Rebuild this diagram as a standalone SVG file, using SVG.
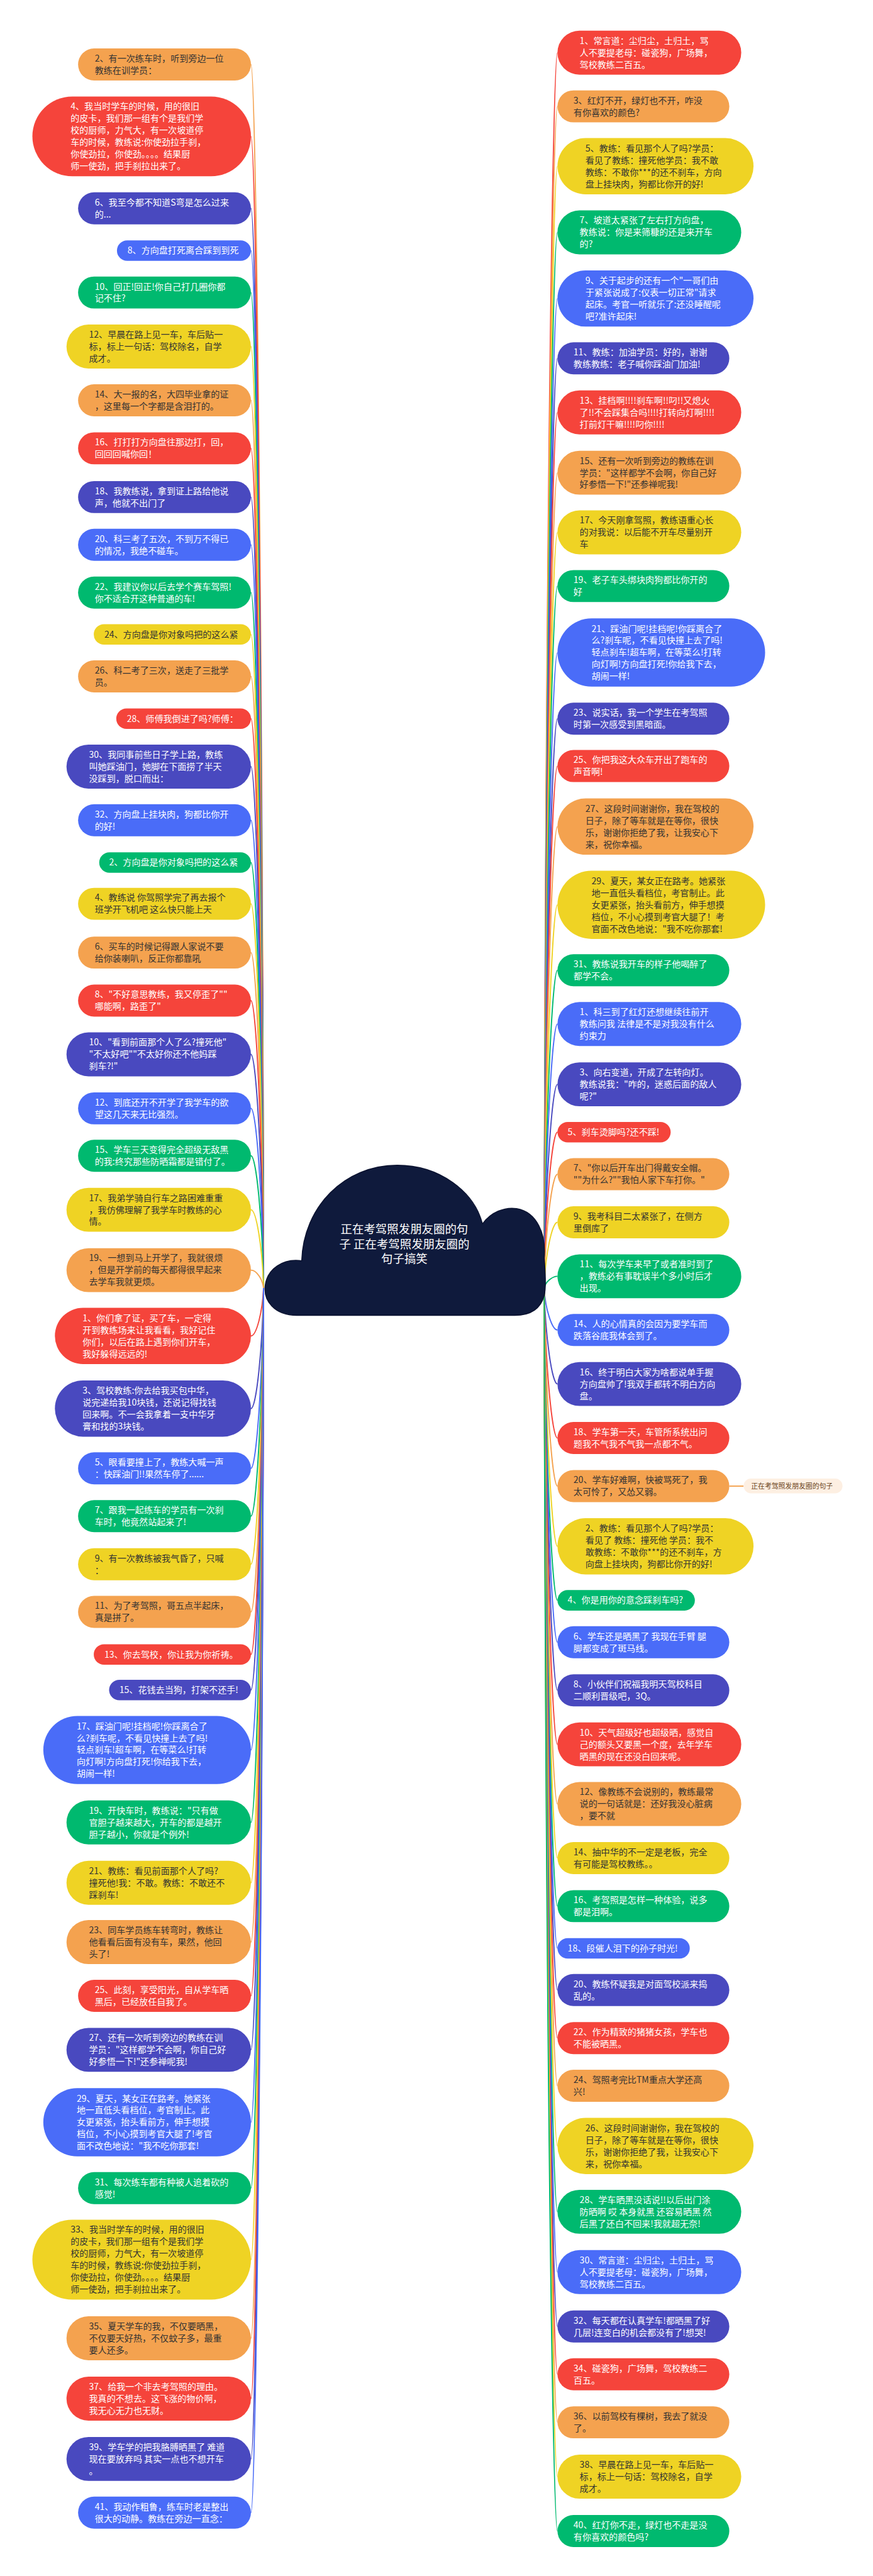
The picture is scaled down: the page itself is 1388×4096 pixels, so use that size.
<svg xmlns="http://www.w3.org/2000/svg" width="1388" height="4096" viewBox="0 0 1388 4096">
<style>
text{font-family:"Noto Sans CJK SC","Noto Sans",sans-serif;font-size:26px}
.r{fill:#f5443b}.o{fill:#f4a24f}.y{fill:#efd324}.g{fill:#00b96f}.b{fill:#4a6cf8}.i{fill:#4949bf}
.tw{fill:#ffffff}.td{fill:#333333}
#links path{fill:none;stroke-width:3.5}
.cr{stroke:#f5443b}.co{stroke:#f4a24f}.cy{stroke:#efd324}.cg{stroke:#00b96f}.cb{stroke:#4a6cf8}.ci{stroke:#4949bf}
.ct{font-size:34px;fill:#ffffff;text-anchor:middle}
.lt{font-size:20px;fill:#6b4420}
</style>
<rect width="1388" height="4096" fill="#ffffff"/>
<g transform="scale(0.5421)">
<g id="links">
<path class="co" d="M773,3778 C770,1983.5 752,189 736,189"/>
<path class="cr" d="M773,3778 C770,2089 752,400 736,400"/>
<path class="ci" d="M773,3778 C770,2194.5 752,611 736,611"/>
<path class="cb" d="M773,3778 C770,2256.5 752,735 736,735"/>
<path class="cg" d="M773,3778 C770,2318 752,858 736,858"/>
<path class="cy" d="M773,3778 C770,2397 752,1016.5 736,1016.5"/>
<path class="co" d="M773,3778 C770,2476 752,1174 736,1174"/>
<path class="cr" d="M773,3778 C770,2546.5 752,1315 736,1315"/>
<path class="ci" d="M773,3778 C770,2618 752,1458 736,1458"/>
<path class="cb" d="M773,3778 C770,2688 752,1598 736,1598"/>
<path class="cg" d="M773,3778 C770,2758 752,1738 736,1738"/>
<path class="cy" d="M773,3778 C770,2819.5 752,1861 736,1861"/>
<path class="co" d="M773,3778 C770,2881 752,1984 736,1984"/>
<path class="cr" d="M773,3778 C770,2943 752,2108 736,2108"/>
<path class="ci" d="M773,3778 C770,3013 752,2248.5 736,2248.5"/>
<path class="cb" d="M773,3778 C770,3092 752,2406 736,2406"/>
<path class="cg" d="M773,3778 C770,3154 752,2530 736,2530"/>
<path class="cy" d="M773,3778 C770,3214.5 752,2651 736,2651"/>
<path class="co" d="M773,3778 C770,3286 752,2794 736,2794"/>
<path class="cr" d="M773,3778 C770,3356.5 752,2935 736,2935"/>
<path class="ci" d="M773,3778 C770,3435 752,3092.5 736,3092.5"/>
<path class="cb" d="M773,3778 C770,3514.5 752,3251 736,3251"/>
<path class="cg" d="M773,3778 C770,3584 752,3390 736,3390"/>
<path class="cy" d="M773,3778 C770,3663 752,3548.5 736,3548.5"/>
<path class="co" d="M773,3778 C770,3751.5 752,3725.5 736,3725.5"/>
<path class="cr" d="M773,3778 C770,3848 752,3918.5 736,3918.5"/>
<path class="ci" d="M773,3778 C770,3955 752,4131.5 736,4131.5"/>
<path class="cb" d="M773,3778 C770,4042.5 752,4307 736,4307"/>
<path class="cg" d="M773,3778 C770,4112.5 752,4447 736,4447"/>
<path class="cy" d="M773,3778 C770,4183 752,4588 736,4588"/>
<path class="co" d="M773,3778 C770,4253 752,4728 736,4728"/>
<path class="cr" d="M773,3778 C770,4315.5 752,4853 736,4853"/>
<path class="ci" d="M773,3778 C770,4367.5 752,4957 736,4957"/>
<path class="cb" d="M773,3778 C770,4455.5 752,5133 736,5133"/>
<path class="cg" d="M773,3778 C770,4561.5 752,5345.5 736,5345.5"/>
<path class="cy" d="M773,3778 C770,4650 752,5522.5 736,5522.5"/>
<path class="co" d="M773,3778 C770,4737 752,5696.5 736,5696.5"/>
<path class="cr" d="M773,3778 C770,4816 752,5854 736,5854"/>
<path class="ci" d="M773,3778 C770,4895 752,6012.5 736,6012.5"/>
<path class="cb" d="M773,3778 C770,5001.5 752,6225 736,6225"/>
<path class="cg" d="M773,3778 C770,5098 752,6418 736,6418"/>
<path class="cy" d="M773,3778 C770,5203 752,6628 736,6628"/>
<path class="co" d="M773,3778 C770,5318 752,6858.5 736,6858.5"/>
<path class="cr" d="M773,3778 C770,5406.5 752,7035.5 736,7035.5"/>
<path class="ci" d="M773,3778 C770,5495 752,7212.5 736,7212.5"/>
<path class="cb" d="M773,3778 C770,5574 752,7370 736,7370"/>
<path class="cr" d="M1596,3778 C1599,1966 1619,154.5 1635,154.5"/>
<path class="co" d="M1596,3778 C1599,2045 1619,312 1635,312"/>
<path class="cy" d="M1596,3778 C1599,2133 1619,487.5 1635,487.5"/>
<path class="cg" d="M1596,3778 C1599,2230 1619,681.5 1635,681.5"/>
<path class="cb" d="M1596,3778 C1599,2327 1619,875.5 1635,875.5"/>
<path class="ci" d="M1596,3778 C1599,2414.5 1619,1051 1635,1051"/>
<path class="cr" d="M1596,3778 C1599,2494 1619,1209.5 1635,1209.5"/>
<path class="co" d="M1596,3778 C1599,2582 1619,1386.5 1635,1386.5"/>
<path class="cy" d="M1596,3778 C1599,2670 1619,1561.5 1635,1561.5"/>
<path class="cg" d="M1596,3778 C1599,2748.5 1619,1719 1635,1719"/>
<path class="cb" d="M1596,3778 C1599,2846 1619,1914 1635,1914"/>
<path class="ci" d="M1596,3778 C1599,2943 1619,2108 1635,2108"/>
<path class="cr" d="M1596,3778 C1599,3012.5 1619,2247 1635,2247"/>
<path class="co" d="M1596,3778 C1599,3101 1619,2424.5 1635,2424.5"/>
<path class="cy" d="M1596,3778 C1599,3216 1619,2654 1635,2654"/>
<path class="cg" d="M1596,3778 C1599,3312 1619,2846 1635,2846"/>
<path class="cb" d="M1596,3778 C1599,3391 1619,3003.5 1635,3003.5"/>
<path class="ci" d="M1596,3778 C1599,3479 1619,3180.5 1635,3180.5"/>
<path class="cr" d="M1596,3778 C1599,3549.5 1619,3321 1635,3321"/>
<path class="co" d="M1596,3778 C1599,3611 1619,3444 1635,3444"/>
<path class="cy" d="M1596,3778 C1599,3681.5 1619,3585 1635,3585"/>
<path class="cg" d="M1596,3778 C1599,3761 1619,3743.5 1635,3743.5"/>
<path class="cb" d="M1596,3778 C1599,3839.5 1619,3901 1635,3901"/>
<path class="ci" d="M1596,3778 C1599,3919 1619,4059.5 1635,4059.5"/>
<path class="cr" d="M1596,3778 C1599,3998 1619,4218 1635,4218"/>
<path class="co" d="M1596,3778 C1599,4068.5 1619,4359 1635,4359"/>
<path class="cy" d="M1596,3778 C1599,4157 1619,4535.5 1635,4535.5"/>
<path class="cg" d="M1596,3778 C1599,4236 1619,4694 1635,4694"/>
<path class="cb" d="M1596,3778 C1599,4297.5 1619,4817 1635,4817"/>
<path class="ci" d="M1596,3778 C1599,4368 1619,4958 1635,4958"/>
<path class="cr" d="M1596,3778 C1599,4447 1619,5116.5 1635,5116.5"/>
<path class="co" d="M1596,3778 C1599,4535 1619,5291.5 1635,5291.5"/>
<path class="cy" d="M1596,3778 C1599,4614 1619,5450 1635,5450"/>
<path class="cg" d="M1596,3778 C1599,4684.5 1619,5591 1635,5591"/>
<path class="cb" d="M1596,3778 C1599,4746.5 1619,5715 1635,5715"/>
<path class="ci" d="M1596,3778 C1599,4807.5 1619,5837 1635,5837"/>
<path class="cr" d="M1596,3778 C1599,4878 1619,5978 1635,5978"/>
<path class="co" d="M1596,3778 C1599,4948 1619,6118 1635,6118"/>
<path class="cy" d="M1596,3778 C1599,5036 1619,6294.5 1635,6294.5"/>
<path class="cg" d="M1596,3778 C1599,5133 1619,6487.5 1635,6487.5"/>
<path class="cb" d="M1596,3778 C1599,5221 1619,6664.5 1635,6664.5"/>
<path class="ci" d="M1596,3778 C1599,5301 1619,6824 1635,6824"/>
<path class="cr" d="M1596,3778 C1599,5371 1619,6964 1635,6964"/>
<path class="co" d="M1596,3778 C1599,5441.5 1619,7105 1635,7105"/>
<path class="cy" d="M1596,3778 C1599,5521 1619,7264.5 1635,7264.5"/>
<path class="cg" d="M1596,3778 C1599,5601 1619,7424 1635,7424"/>
<path class="co" d="M2139,4359 L2181,4359"/>
</g>

<g id="center">
<path d="M870,3858 C805,3858 772,3815 778,3770 C784,3722 830,3690 885,3698 C890,3540 1010,3418 1165,3418 C1290,3418 1390,3495 1415,3590 C1440,3555 1480,3540 1515,3545 C1575,3555 1602,3620 1596,3690 C1600,3740 1602,3778 1596,3800 C1585,3840 1555,3858 1510,3858 Z" fill="#0f1a3c" stroke="#0a1230" stroke-width="3"/>
<text class="ct" x="1186" y="3617">正在考驾照发朋友圈的句</text>
<text class="ct" x="1186" y="3661">子 正在考驾照发朋友圈的</text>
<text class="ct" x="1186" y="3704">句子搞笑</text>
</g>

<g id="label">
<rect x="2181" y="4337" width="290" height="43" rx="21.5" fill="#fdefe2"/>
<text class="lt" x="2203" y="4366">正在考驾照发朋友圈的句子</text>
</g>

<g id="L1"><rect class="o" x="229" y="142" width="507" height="94" rx="47"/><text class="td" x="278" y="180.5"><tspan x="278">2、有一次练车时，听到旁边一位</tspan><tspan x="278" dy="35">教练在训学员：</tspan></text></g>
<g id="L2"><rect class="r" x="95" y="283" width="641" height="234" rx="117"/><text class="tw" x="207" y="321.5"><tspan x="207">4、我当时学车的时候，用的很旧</tspan><tspan x="207" dy="35">的皮卡，我们那一组有个是我们学</tspan><tspan x="207" dy="35">校的厨师，力气大，有一次坡道停</tspan><tspan x="207" dy="35">车的时候，教练说:你使劲拉手刹，</tspan><tspan x="207" dy="35">你使劲拉，你使劲。。。。结果厨</tspan><tspan x="207" dy="35">师一使劲，把手刹拉出来了。</tspan></text></g>
<g id="L3"><rect class="i" x="229" y="564" width="507" height="94" rx="47"/><text class="tw" x="278" y="602.5"><tspan x="278">6、我至今都不知道S弯是怎么过来</tspan><tspan x="278" dy="35">的...</tspan></text></g>
<g id="L4"><rect class="b" x="343" y="705" width="393" height="60" rx="30"/><text class="tw" x="374" y="744">8、方向盘打死离合踩到到死</text></g>
<g id="L5"><rect class="g" x="229" y="811" width="507" height="94" rx="47"/><text class="tw" x="278" y="849.5"><tspan x="278">10、回正!回正!你自己打几圈你都</tspan><tspan x="278" dy="35">记不住?</tspan></text></g>
<g id="L6"><rect class="y" x="195" y="952" width="541" height="129" rx="64.5"/><text class="td" x="261" y="990.5"><tspan x="261">12、早晨在路上见一车，车后贴一</tspan><tspan x="261" dy="35">标，标上一句话：驾校除名，自学</tspan><tspan x="261" dy="35">成才。</tspan></text></g>
<g id="L7"><rect class="o" x="229" y="1127" width="507" height="94" rx="47"/><text class="td" x="278" y="1165.5"><tspan x="278">14、大一报的名，大四毕业拿的证</tspan><tspan x="278" dy="35">，这里每一个字都是含泪打的。</tspan></text></g>
<g id="L8"><rect class="r" x="229" y="1268" width="507" height="94" rx="47"/><text class="tw" x="278" y="1306.5"><tspan x="278">16、打打打方向盘往那边打，回，</tspan><tspan x="278" dy="35">回回回喊你回！</tspan></text></g>
<g id="L9"><rect class="i" x="229" y="1411" width="507" height="94" rx="47"/><text class="tw" x="278" y="1449.5"><tspan x="278">18、我教练说，拿到证上路给他说</tspan><tspan x="278" dy="35">声，他就不出门了</tspan></text></g>
<g id="L10"><rect class="b" x="229" y="1551" width="507" height="94" rx="47"/><text class="tw" x="278" y="1589.5"><tspan x="278">20、科三考了五次，不到万不得已</tspan><tspan x="278" dy="35">的情况，我绝不碰车。</tspan></text></g>
<g id="L11"><rect class="g" x="229" y="1691" width="507" height="94" rx="47"/><text class="tw" x="278" y="1729.5"><tspan x="278">22、我建议你以后去学个赛车驾照!</tspan><tspan x="278" dy="35">你不适合开这种普通的车!</tspan></text></g>
<g id="L12"><rect class="y" x="275" y="1831" width="461" height="60" rx="30"/><text class="td" x="306" y="1870">24、方向盘是你对象吗把的这么紧</text></g>
<g id="L13"><rect class="o" x="229" y="1937" width="507" height="94" rx="47"/><text class="td" x="278" y="1975.5"><tspan x="278">26、科二考了三次，送走了三批学</tspan><tspan x="278" dy="35">员。</tspan></text></g>
<g id="L14"><rect class="r" x="341" y="2078" width="395" height="60" rx="30"/><text class="tw" x="372" y="2117">28、师傅我倒进了吗?师傅：</text></g>
<g id="L15"><rect class="i" x="195" y="2184" width="541" height="129" rx="64.5"/><text class="tw" x="261" y="2222.5"><tspan x="261">30、我同事前些日子学上路，教练</tspan><tspan x="261" dy="35">叫她踩油门，她脚在下面捞了半天</tspan><tspan x="261" dy="35">没踩到，脱口而出：</tspan></text></g>
<g id="L16"><rect class="b" x="229" y="2359" width="507" height="94" rx="47"/><text class="tw" x="278" y="2397.5"><tspan x="278">32、方向盘上挂块肉，狗都比你开</tspan><tspan x="278" dy="35">的好!</tspan></text></g>
<g id="L17"><rect class="g" x="291" y="2500" width="445" height="60" rx="30"/><text class="tw" x="320" y="2539">2、方向盘是你对象吗把的这么紧</text></g>
<g id="L18"><rect class="y" x="229" y="2604" width="507" height="94" rx="47"/><text class="td" x="278" y="2642.5"><tspan x="278">4、教练说 你驾照学完了再去报个</tspan><tspan x="278" dy="35">班学开飞机吧 这么快只能上天</tspan></text></g>
<g id="L19"><rect class="o" x="229" y="2747" width="507" height="94" rx="47"/><text class="td" x="278" y="2785.5"><tspan x="278">6、买车的时候记得跟人家说不要</tspan><tspan x="278" dy="35">给你装喇叭，反正你都靠吼</tspan></text></g>
<g id="L20"><rect class="r" x="229" y="2888" width="507" height="94" rx="47"/><text class="tw" x="278" y="2926.5"><tspan x="278">8、"不好意思教练，我又停歪了""</tspan><tspan x="278" dy="35">哪能啊，路歪了"</tspan></text></g>
<g id="L21"><rect class="i" x="195" y="3028" width="541" height="129" rx="64.5"/><text class="tw" x="261" y="3066.5"><tspan x="261">10、"看到前面那个人了么?撞死他"</tspan><tspan x="261" dy="35">"不太好吧""不太好你还不他妈踩</tspan><tspan x="261" dy="35">刹车?!"</tspan></text></g>
<g id="L22"><rect class="b" x="229" y="3204" width="507" height="94" rx="47"/><text class="tw" x="278" y="3242.5"><tspan x="278">12、到底还开不开学了我学车的欲</tspan><tspan x="278" dy="35">望这几天来无比强烈。</tspan></text></g>
<g id="L23"><rect class="g" x="229" y="3343" width="507" height="94" rx="47"/><text class="tw" x="278" y="3381.5"><tspan x="278">15、学车三天变得完全超级无敌黑</tspan><tspan x="278" dy="35">的我:终究那些防晒霜都是错付了。</tspan></text></g>
<g id="L24"><rect class="y" x="195" y="3484" width="541" height="129" rx="64.5"/><text class="td" x="261" y="3522.5"><tspan x="261">17、我弟学骑自行车之路困难重重</tspan><tspan x="261" dy="35">，我仿佛理解了我学车时教练的心</tspan><tspan x="261" dy="35">情。</tspan></text></g>
<g id="L25"><rect class="o" x="195" y="3661" width="541" height="129" rx="64.5"/><text class="td" x="261" y="3699.5"><tspan x="261">19、一想到马上开学了，我就很烦</tspan><tspan x="261" dy="35">，但是开学前的每天都得很早起来</tspan><tspan x="261" dy="35">去学车我就更烦。</tspan></text></g>
<g id="L26"><rect class="r" x="161" y="3836" width="575" height="165" rx="82.5"/><text class="tw" x="242" y="3875"><tspan x="242">1、你们拿了证，买了车，一定得</tspan><tspan x="242" dy="35">开到教练场来让我看看，我好记住</tspan><tspan x="242" dy="35">你们，以后在路上遇到你们开车，</tspan><tspan x="242" dy="35">我好躲得远远的!</tspan></text></g>
<g id="L27"><rect class="i" x="161" y="4049" width="575" height="165" rx="82.5"/><text class="tw" x="242" y="4088"><tspan x="242">3、驾校教练:你去给我买包中华，</tspan><tspan x="242" dy="35">说完递给我10块钱，还说记得找钱</tspan><tspan x="242" dy="35">回来啊。不一会我拿着一支中华牙</tspan><tspan x="242" dy="35">膏和找的3块钱。</tspan></text></g>
<g id="L28"><rect class="b" x="229" y="4260" width="507" height="94" rx="47"/><text class="tw" x="278" y="4298.5"><tspan x="278">5、眼看要撞上了，教练大喊一声</tspan><tspan x="278" dy="35">：快踩油门!!果然车停了......</tspan></text></g>
<g id="L29"><rect class="g" x="229" y="4400" width="507" height="94" rx="47"/><text class="tw" x="278" y="4438.5"><tspan x="278">7、跟我一起练车的学员有一次刹</tspan><tspan x="278" dy="35">车时，他竟然站起来了!</tspan></text></g>
<g id="L30"><rect class="y" x="229" y="4541" width="507" height="94" rx="47"/><text class="td" x="278" y="4579.5"><tspan x="278">9、有一次教练被我气昏了，只喊</tspan><tspan x="278" dy="35">：</tspan></text></g>
<g id="L31"><rect class="o" x="229" y="4681" width="507" height="94" rx="47"/><text class="td" x="278" y="4719.5"><tspan x="278">11、为了考驾照，哥五点半起床，</tspan><tspan x="278" dy="35">真是拼了。</tspan></text></g>
<g id="L32"><rect class="r" x="275" y="4823" width="461" height="60" rx="30"/><text class="tw" x="306" y="4862">13、你去驾校，你让我为你祈祷。</text></g>
<g id="L33"><rect class="i" x="320" y="4927" width="416" height="60" rx="30"/><text class="tw" x="350" y="4966">15、花钱去当狗，打架不还手!</text></g>
<g id="L34"><rect class="b" x="127" y="5033" width="609" height="200" rx="100"/><text class="tw" x="225" y="5072"><tspan x="225">17、踩油门呢!挂档呢!你踩离合了</tspan><tspan x="225" dy="35">么?刹车呢，不看见快撞上去了吗!</tspan><tspan x="225" dy="35">轻点刹车!超车啊，在等菜么!打转</tspan><tspan x="225" dy="35">向灯啊!方向盘打死!你给我下去，</tspan><tspan x="225" dy="35">胡闹一样!</tspan></text></g>
<g id="L35"><rect class="g" x="195" y="5281" width="541" height="129" rx="64.5"/><text class="tw" x="261" y="5319.5"><tspan x="261">19、开快车时，教练说："只有做</tspan><tspan x="261" dy="35">官胆子越来越大，开车的都是越开</tspan><tspan x="261" dy="35">胆子越小，你就是个例外!</tspan></text></g>
<g id="L36"><rect class="y" x="195" y="5458" width="541" height="129" rx="64.5"/><text class="td" x="261" y="5496.5"><tspan x="261">21、教练：看见前面那个人了吗?</tspan><tspan x="261" dy="35">撞死他!我：不敢。教练：不敢还不</tspan><tspan x="261" dy="35">踩刹车!</tspan></text></g>
<g id="L37"><rect class="o" x="195" y="5632" width="541" height="129" rx="64.5"/><text class="td" x="261" y="5670.5"><tspan x="261">23、同车学员练车转弯时，教练让</tspan><tspan x="261" dy="35">他看看后面有没有车，果然，他回</tspan><tspan x="261" dy="35">头了!</tspan></text></g>
<g id="L38"><rect class="r" x="229" y="5807" width="507" height="94" rx="47"/><text class="tw" x="278" y="5845.5"><tspan x="278">25、此刻，享受阳光，自从学车晒</tspan><tspan x="278" dy="35">黑后，已经放任自我了。</tspan></text></g>
<g id="L39"><rect class="i" x="195" y="5948" width="541" height="129" rx="64.5"/><text class="tw" x="261" y="5986.5"><tspan x="261">27、还有一次听到旁边的教练在训</tspan><tspan x="261" dy="35">学员："这样都学不会啊，你自己好</tspan><tspan x="261" dy="35">好参悟一下!"还参禅呢我!</tspan></text></g>
<g id="L40"><rect class="b" x="127" y="6125" width="609" height="200" rx="100"/><text class="tw" x="225" y="6164"><tspan x="225">29、夏天，某女正在路考。她紧张</tspan><tspan x="225" dy="35">地一直低头看档位，考官制止。此</tspan><tspan x="225" dy="35">女更紧张，抬头看前方，伸手想摸</tspan><tspan x="225" dy="35">档位，不小心摸到考官大腿了!考官</tspan><tspan x="225" dy="35">面不改色地说："我不吃你那套!</tspan></text></g>
<g id="L41"><rect class="g" x="229" y="6371" width="507" height="94" rx="47"/><text class="tw" x="278" y="6409.5"><tspan x="278">31、每次练车都有种被人追着砍的</tspan><tspan x="278" dy="35">感觉!</tspan></text></g>
<g id="L42"><rect class="y" x="95" y="6511" width="641" height="234" rx="117"/><text class="td" x="207" y="6549.5"><tspan x="207">33、我当时学车的时候，用的很旧</tspan><tspan x="207" dy="35">的皮卡，我们那一组有个是我们学</tspan><tspan x="207" dy="35">校的厨师，力气大，有一次坡道停</tspan><tspan x="207" dy="35">车的时候，教练说:你使劲拉手刹，</tspan><tspan x="207" dy="35">你使劲拉，你使劲。。。。结果厨</tspan><tspan x="207" dy="35">师一使劲，把手刹拉出来了。</tspan></text></g>
<g id="L43"><rect class="o" x="195" y="6794" width="541" height="129" rx="64.5"/><text class="td" x="261" y="6832.5"><tspan x="261">35、夏天学车的我，不仅要晒黑，</tspan><tspan x="261" dy="35">不仅要天好热，不仅蚊子多，最重</tspan><tspan x="261" dy="35">要人还多。</tspan></text></g>
<g id="L44"><rect class="r" x="195" y="6971" width="541" height="129" rx="64.5"/><text class="tw" x="261" y="7009.5"><tspan x="261">37、给我一个非去考驾照的理由。</tspan><tspan x="261" dy="35">我真的不想去。这飞涨的物价啊，</tspan><tspan x="261" dy="35">我无心无力也无财。</tspan></text></g>
<g id="L45"><rect class="i" x="195" y="7148" width="541" height="129" rx="64.5"/><text class="tw" x="261" y="7186.5"><tspan x="261">39、学车学的把我胳膊晒黑了 难道</tspan><tspan x="261" dy="35">现在要放弃吗 其实一点也不想开车</tspan><tspan x="261" dy="35">。</tspan></text></g>
<g id="L46"><rect class="b" x="229" y="7323" width="507" height="94" rx="47"/><text class="tw" x="278" y="7361.5"><tspan x="278">41、我动作粗鲁，练车时老是整出</tspan><tspan x="278" dy="35">很大的动静。教练在旁边一直念：</tspan></text></g>

<g id="R1"><rect class="r" x="1635" y="90" width="539" height="129" rx="64.5"/><text class="tw" x="1700" y="128.5"><tspan x="1700">1、常言道：尘归尘，土归土，骂</tspan><tspan x="1700" dy="35">人不要提老母：碰瓷狗，广场舞，</tspan><tspan x="1700" dy="35">驾校教练二百五。</tspan></text></g>
<g id="R2"><rect class="o" x="1635" y="265" width="504" height="94" rx="47"/><text class="td" x="1682" y="303.5"><tspan x="1682">3、红灯不开，绿灯也不开，咋没</tspan><tspan x="1682" dy="35">有你喜欢的颜色?</tspan></text></g>
<g id="R3"><rect class="y" x="1635" y="405" width="575" height="165" rx="82.5"/><text class="td" x="1717" y="444"><tspan x="1717">5、教练：看见那个人了吗?学员：</tspan><tspan x="1717" dy="35">看见了教练：撞死他学员：我不敢</tspan><tspan x="1717" dy="35">教练：不敢你***的还不刹车，方向</tspan><tspan x="1717" dy="35">盘上挂块肉，狗都比你开的好!</tspan></text></g>
<g id="R4"><rect class="g" x="1635" y="617" width="539" height="129" rx="64.5"/><text class="tw" x="1700" y="655.5"><tspan x="1700">7、坡道太紧张了左右打方向盘，</tspan><tspan x="1700" dy="35">教练说：你是来筛糠的还是来开车</tspan><tspan x="1700" dy="35">的?</tspan></text></g>
<g id="R5"><rect class="b" x="1635" y="793" width="575" height="165" rx="82.5"/><text class="tw" x="1717" y="832"><tspan x="1717">9、关于起步的还有一个"一哥们由</tspan><tspan x="1717" dy="35">于紧张说成了:仪表一切正常"请求</tspan><tspan x="1717" dy="35">起床。考官一听就乐了:还没睡醒呢</tspan><tspan x="1717" dy="35">吧?准许起床!</tspan></text></g>
<g id="R6"><rect class="i" x="1635" y="1004" width="504" height="94" rx="47"/><text class="tw" x="1682" y="1042.5"><tspan x="1682">11、教练：加油学员：好的，谢谢</tspan><tspan x="1682" dy="35">教练教练：老子喊你踩油门加油!</tspan></text></g>
<g id="R7"><rect class="r" x="1635" y="1145" width="539" height="129" rx="64.5"/><text class="tw" x="1700" y="1183.5"><tspan x="1700">13、挂档啊!!!!刹车啊!!叼!!又熄火</tspan><tspan x="1700" dy="35">了!!不会踩集合吗!!!!打转向灯啊!!!!</tspan><tspan x="1700" dy="35">打前灯干嘛!!!!叼你!!!!</tspan></text></g>
<g id="R8"><rect class="o" x="1635" y="1322" width="539" height="129" rx="64.5"/><text class="td" x="1700" y="1360.5"><tspan x="1700">15、还有一次听到旁边的教练在训</tspan><tspan x="1700" dy="35">学员："这样都学不会啊，你自己好</tspan><tspan x="1700" dy="35">好参悟一下!"还参禅呢我!</tspan></text></g>
<g id="R9"><rect class="y" x="1635" y="1497" width="539" height="129" rx="64.5"/><text class="td" x="1700" y="1535.5"><tspan x="1700">17、今天刚拿驾照，教练语重心长</tspan><tspan x="1700" dy="35">的对我说：以后能不开车尽量别开</tspan><tspan x="1700" dy="35">车</tspan></text></g>
<g id="R10"><rect class="g" x="1635" y="1672" width="504" height="94" rx="47"/><text class="tw" x="1682" y="1710.5"><tspan x="1682">19、老子车头绑块肉狗都比你开的</tspan><tspan x="1682" dy="35">好</tspan></text></g>
<g id="R11"><rect class="b" x="1635" y="1814" width="609" height="200" rx="100"/><text class="tw" x="1735" y="1853"><tspan x="1735">21、踩油门呢!挂档呢!你踩离合了</tspan><tspan x="1735" dy="35">么?刹车呢，不看见快撞上去了吗!</tspan><tspan x="1735" dy="35">轻点刹车!超车啊，在等菜么!打转</tspan><tspan x="1735" dy="35">向灯啊!方向盘打死!你给我下去，</tspan><tspan x="1735" dy="35">胡闹一样!</tspan></text></g>
<g id="R12"><rect class="i" x="1635" y="2061" width="504" height="94" rx="47"/><text class="tw" x="1682" y="2099.5"><tspan x="1682">23、说实话，我一个学生在考驾照</tspan><tspan x="1682" dy="35">时第一次感受到黑暗面。</tspan></text></g>
<g id="R13"><rect class="r" x="1635" y="2200" width="504" height="94" rx="47"/><text class="tw" x="1682" y="2238.5"><tspan x="1682">25、你把我这大众车开出了跑车的</tspan><tspan x="1682" dy="35">声音啊!</tspan></text></g>
<g id="R14"><rect class="o" x="1635" y="2342" width="575" height="165" rx="82.5"/><text class="td" x="1717" y="2381"><tspan x="1717">27、这段时间谢谢你，我在驾校的</tspan><tspan x="1717" dy="35">日子，除了等车就是在等你，很快</tspan><tspan x="1717" dy="35">乐，谢谢你拒绝了我，让我安心下</tspan><tspan x="1717" dy="35">来，祝你幸福。</tspan></text></g>
<g id="R15"><rect class="y" x="1635" y="2554" width="609" height="200" rx="100"/><text class="td" x="1735" y="2593"><tspan x="1735">29、夏天，某女正在路考。她紧张</tspan><tspan x="1735" dy="35">地一直低头看档位，考官制止。此</tspan><tspan x="1735" dy="35">女更紧张，抬头看前方，伸手想摸</tspan><tspan x="1735" dy="35">档位，不小心摸到考官大腿了！考</tspan><tspan x="1735" dy="35">官面不改色地说："我不吃你那套!</tspan></text></g>
<g id="R16"><rect class="g" x="1635" y="2799" width="504" height="94" rx="47"/><text class="tw" x="1682" y="2837.5"><tspan x="1682">31、教练说我开车的样子他喝醉了</tspan><tspan x="1682" dy="35">都学不会。</tspan></text></g>
<g id="R17"><rect class="b" x="1635" y="2939" width="539" height="129" rx="64.5"/><text class="tw" x="1700" y="2977.5"><tspan x="1700">1、科三到了红灯还想继续往前开</tspan><tspan x="1700" dy="35">教练问我 法律是不是对我没有什么</tspan><tspan x="1700" dy="35">约束力</tspan></text></g>
<g id="R18"><rect class="i" x="1635" y="3116" width="539" height="129" rx="64.5"/><text class="tw" x="1700" y="3154.5"><tspan x="1700">3、向右变道，开成了左转向灯。</tspan><tspan x="1700" dy="35">教练说我："咋的，迷惑后面的敌人</tspan><tspan x="1700" dy="35">呢?"</tspan></text></g>
<g id="R19"><rect class="r" x="1635" y="3291" width="332" height="60" rx="30"/><text class="tw" x="1665" y="3330">5、刹车烫脚吗?还不踩!</text></g>
<g id="R20"><rect class="o" x="1635" y="3397" width="504" height="94" rx="47"/><text class="td" x="1682" y="3435.5"><tspan x="1682">7、"你以后开车出门得戴安全帽。</tspan><tspan x="1682" dy="35">""为什么?""我怕人家下车打你。"</tspan></text></g>
<g id="R21"><rect class="y" x="1635" y="3538" width="504" height="94" rx="47"/><text class="td" x="1682" y="3576.5"><tspan x="1682">9、我考科目二太紧张了，在侧方</tspan><tspan x="1682" dy="35">里倒库了</tspan></text></g>
<g id="R22"><rect class="g" x="1635" y="3679" width="539" height="129" rx="64.5"/><text class="tw" x="1700" y="3717.5"><tspan x="1700">11、每次学车来早了或者准时到了</tspan><tspan x="1700" dy="35">，教练必有事耽误半个多小时后才</tspan><tspan x="1700" dy="35">出现。</tspan></text></g>
<g id="R23"><rect class="b" x="1635" y="3854" width="504" height="94" rx="47"/><text class="tw" x="1682" y="3892.5"><tspan x="1682">14、人的心情真的会因为要学车而</tspan><tspan x="1682" dy="35">跌落谷底我体会到了。</tspan></text></g>
<g id="R24"><rect class="i" x="1635" y="3995" width="539" height="129" rx="64.5"/><text class="tw" x="1700" y="4033.5"><tspan x="1700">16、终于明白大家为啥都说单手握</tspan><tspan x="1700" dy="35">方向盘帅了!我双手都转不明白方向</tspan><tspan x="1700" dy="35">盘。</tspan></text></g>
<g id="R25"><rect class="r" x="1635" y="4171" width="504" height="94" rx="47"/><text class="tw" x="1682" y="4209.5"><tspan x="1682">18、学车第一天，车管所系统出问</tspan><tspan x="1682" dy="35">题我不气我不气我一点都不气。</tspan></text></g>
<g id="R26"><rect class="o" x="1635" y="4312" width="504" height="94" rx="47"/><text class="td" x="1682" y="4350.5"><tspan x="1682">20、学车好难啊，快被骂死了，我</tspan><tspan x="1682" dy="35">太可怜了，又怂又弱。</tspan></text></g>
<g id="R27"><rect class="y" x="1635" y="4453" width="575" height="165" rx="82.5"/><text class="td" x="1717" y="4492"><tspan x="1717">2、教练：看见那个人了吗?学员：</tspan><tspan x="1717" dy="35">看见了 教练：撞死他 学员：我不</tspan><tspan x="1717" dy="35">敢教练：不敢你***的还不刹车，方</tspan><tspan x="1717" dy="35">向盘上挂块肉，狗都比你开的好!</tspan></text></g>
<g id="R28"><rect class="g" x="1635" y="4664" width="403" height="60" rx="30"/><text class="tw" x="1665" y="4703">4、你是用你的意念踩刹车吗?</text></g>
<g id="R29"><rect class="b" x="1635" y="4770" width="504" height="94" rx="47"/><text class="tw" x="1682" y="4808.5"><tspan x="1682">6、学车还是晒黑了 我现在手臂 腿</tspan><tspan x="1682" dy="35">脚都变成了斑马线。</tspan></text></g>
<g id="R30"><rect class="i" x="1635" y="4911" width="504" height="94" rx="47"/><text class="tw" x="1682" y="4949.5"><tspan x="1682">8、小伙伴们祝福我明天驾校科目</tspan><tspan x="1682" dy="35">二顺利晋级吧，3Q。</tspan></text></g>
<g id="R31"><rect class="r" x="1635" y="5052" width="539" height="129" rx="64.5"/><text class="tw" x="1700" y="5090.5"><tspan x="1700">10、天气超级好也超级晒，感觉自</tspan><tspan x="1700" dy="35">己的额头又要黑一个度，去年学车</tspan><tspan x="1700" dy="35">晒黑的现在还没白回来呢。</tspan></text></g>
<g id="R32"><rect class="o" x="1635" y="5227" width="539" height="129" rx="64.5"/><text class="td" x="1700" y="5265.5"><tspan x="1700">12、像教练不会说别的，教练最常</tspan><tspan x="1700" dy="35">说的一句话就是：还好我没心脏病</tspan><tspan x="1700" dy="35">，要不就</tspan></text></g>
<g id="R33"><rect class="y" x="1635" y="5403" width="504" height="94" rx="47"/><text class="td" x="1682" y="5441.5"><tspan x="1682">14、抽中华的不一定是老板，完全</tspan><tspan x="1682" dy="35">有可能是驾校教练。。</tspan></text></g>
<g id="R34"><rect class="g" x="1635" y="5544" width="504" height="94" rx="47"/><text class="tw" x="1682" y="5582.5"><tspan x="1682">16、考驾照是怎样一种体验，说多</tspan><tspan x="1682" dy="35">都是泪啊。</tspan></text></g>
<g id="R35"><rect class="b" x="1635" y="5685" width="388" height="60" rx="30"/><text class="tw" x="1665" y="5724">18、段催人泪下的孙子时光!</text></g>
<g id="R36"><rect class="i" x="1635" y="5790" width="504" height="94" rx="47"/><text class="tw" x="1682" y="5828.5"><tspan x="1682">20、教练怀疑我是对面驾校派来捣</tspan><tspan x="1682" dy="35">乱的。</tspan></text></g>
<g id="R37"><rect class="r" x="1635" y="5931" width="504" height="94" rx="47"/><text class="tw" x="1682" y="5969.5"><tspan x="1682">22、作为精致的猪猪女孩，学车也</tspan><tspan x="1682" dy="35">不能被晒黑。</tspan></text></g>
<g id="R38"><rect class="o" x="1635" y="6071" width="504" height="94" rx="47"/><text class="td" x="1682" y="6109.5"><tspan x="1682">24、驾照考完比TM重点大学还高</tspan><tspan x="1682" dy="35">兴!</tspan></text></g>
<g id="R39"><rect class="y" x="1635" y="6212" width="575" height="165" rx="82.5"/><text class="td" x="1717" y="6251"><tspan x="1717">26、这段时间谢谢你，我在驾校的</tspan><tspan x="1717" dy="35">日子，除了等车就是在等你，很快</tspan><tspan x="1717" dy="35">乐，谢谢你拒绝了我，让我安心下</tspan><tspan x="1717" dy="35">来，祝你幸福。</tspan></text></g>
<g id="R40"><rect class="g" x="1635" y="6423" width="539" height="129" rx="64.5"/><text class="tw" x="1700" y="6461.5"><tspan x="1700">28、学车晒黑没话说!!以后出门涂</tspan><tspan x="1700" dy="35">防晒啊 哎 本身就黑 还容易晒黑 然</tspan><tspan x="1700" dy="35">后黑了还白不回来!我就超无奈!</tspan></text></g>
<g id="R41"><rect class="b" x="1635" y="6600" width="539" height="129" rx="64.5"/><text class="tw" x="1700" y="6638.5"><tspan x="1700">30、常言道：尘归尘，土归土，骂</tspan><tspan x="1700" dy="35">人不要提老母：碰瓷狗，广场舞，</tspan><tspan x="1700" dy="35">驾校教练二百五。</tspan></text></g>
<g id="R42"><rect class="i" x="1635" y="6777" width="504" height="94" rx="47"/><text class="tw" x="1682" y="6815.5"><tspan x="1682">32、每天都在认真学车!都晒黑了好</tspan><tspan x="1682" dy="35">几层!连变白的机会都没有了!想哭!</tspan></text></g>
<g id="R43"><rect class="r" x="1635" y="6917" width="504" height="94" rx="47"/><text class="tw" x="1682" y="6955.5"><tspan x="1682">34、碰瓷狗，广场舞，驾校教练二</tspan><tspan x="1682" dy="35">百五。</tspan></text></g>
<g id="R44"><rect class="o" x="1635" y="7058" width="504" height="94" rx="47"/><text class="td" x="1682" y="7096.5"><tspan x="1682">36、以前驾校有棵树，我去了就没</tspan><tspan x="1682" dy="35">了。</tspan></text></g>
<g id="R45"><rect class="y" x="1635" y="7200" width="539" height="129" rx="64.5"/><text class="td" x="1700" y="7238.5"><tspan x="1700">38、早晨在路上见一车，车后贴一</tspan><tspan x="1700" dy="35">标，标上一句话：驾校除名，自学</tspan><tspan x="1700" dy="35">成才。</tspan></text></g>
<g id="R46"><rect class="g" x="1635" y="7377" width="504" height="94" rx="47"/><text class="tw" x="1682" y="7415.5"><tspan x="1682">40、红灯你不走，绿灯也不走是没</tspan><tspan x="1682" dy="35">有你喜欢的颜色吗?</tspan></text></g>
</g>
</svg>
